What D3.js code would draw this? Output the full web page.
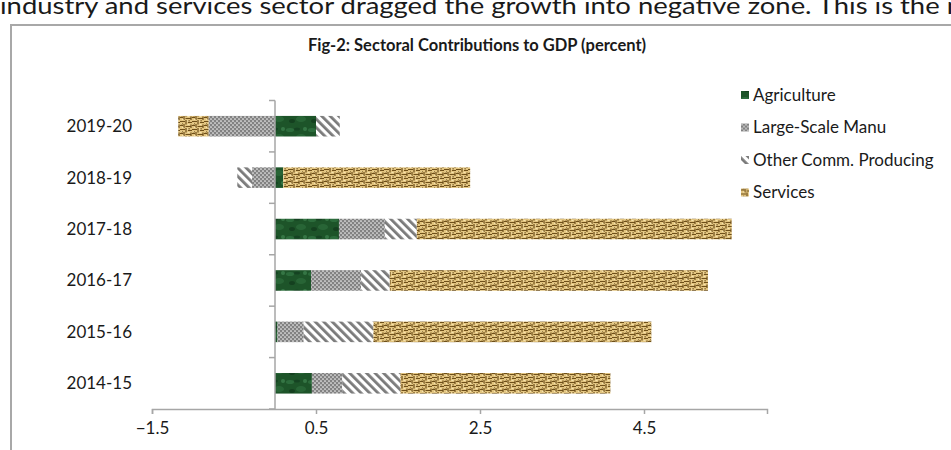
<!DOCTYPE html>
<html>
<head>
<meta charset="utf-8">
<script src="https://cdn.jsdelivr.net/npm/d3@7"></script>
<style>
  body { margin: 0; background: #fff; }
  svg { display: block; }
  text { font-family: Lato, "Open Sans", sans-serif; fill: #1a1a1a; }
</style>
</head>
<body>
<svg id="chart" width="951" height="450"></svg>
<script>
// values (percentage points of GDP growth)
const years = ['2019-20', '2018-19', '2017-18', '2016-17', '2015-16', '2014-15'];
const sectors = ['Agriculture', 'Large-Scale Manu', 'Other Comm. Producing', 'Services'];
const agriculture = [0.50, 0.10, 0.78, 0.44, 0.03, 0.45];
const largeScaleManu = [-0.81, -0.28, 0.56, 0.61, 0.32, 0.37];
const otherCommProducing = [0.29, -0.18, 0.39, 0.35, 0.85, 0.71];
const services = [-0.37, 2.28, 3.84, 3.88, 3.39, 2.56];
const xTicks = [-1.5, 0.5, 2.5, 4.5];

const svg = d3.select('#chart');
const defs = svg.append('defs');

// fill textures, one per sector
const agri = defs.append('pattern').attr('id', 'p0')
  .attr('patternUnits', 'userSpaceOnUse').attr('width', 22).attr('height', 18);
agri.append('rect').attr('width', 22).attr('height', 18).attr('fill', '#1d5429');
[[4, 4, 4, 2, '#2c6c3c'], [15, 11, 5, 3, '#286536'], [11, 3, 3, 1.5, '#154322'],
 [6, 13, 3, 2, '#14401f'], [19, 3, 2, 2, '#357645']].forEach(([cx, cy, rx, ry, c]) => {
  agri.append('ellipse').attr('cx', cx).attr('cy', cy).attr('rx', rx).attr('ry', ry).attr('fill', c);
});

const lsm = defs.append('pattern').attr('id', 'p1')
  .attr('patternUnits', 'userSpaceOnUse').attr('width', 4).attr('height', 4);
lsm.append('rect').attr('width', 4).attr('height', 4).attr('fill', '#828282');
lsm.append('circle').attr('cx', 1).attr('cy', 1).attr('r', 0.85).attr('fill', '#f0f0f0');
lsm.append('circle').attr('cx', 3).attr('cy', 3).attr('r', 0.85).attr('fill', '#f0f0f0');

const other = defs.append('pattern').attr('id', 'p2')
  .attr('patternUnits', 'userSpaceOnUse').attr('width', 6).attr('height', 6)
  .attr('patternTransform', 'rotate(-45)');
other.append('rect').attr('width', 6).attr('height', 6).attr('fill', '#fff');
other.append('rect').attr('width', 2.8).attr('height', 6).attr('fill', '#7a7a7a');

const serv = defs.append('pattern').attr('id', 'p3')
  .attr('patternUnits', 'userSpaceOnUse').attr('width', 12).attr('height', 8);
serv.append('rect').attr('width', 12).attr('height', 8).attr('fill', '#e2c47f');
serv.append('path')
  .attr('d', 'M0 1.5h5M6 0v4.5M8 2.5h4M0 5.5h3M4 4v4M5.5 6.5h5M11 4.5v3.5M9 0v1.5M2 3v1.5')
  .attr('stroke', '#6e4f1a').attr('stroke-width', 1.2).attr('fill', 'none');
serv.append('path')
  .attr('d', 'M1 3.5h0.8M7.5 4.5h2M2 7.5h1.5M7 1h1.5')
  .attr('stroke', '#f6e3b0').attr('stroke-width', 1).attr('fill', 'none');

// text above the chart box (cut off in the source)
svg.append('text')
  .attr('x', 0).attr('y', 14)
  .attr('font-size', 24)
  .attr('textLength', 962).attr('lengthAdjust', 'spacingAndGlyphs')
  .text('industry and services sector dragged the growth into negative zone. This is the n');

// chart box
svg.append('rect')
  .attr('x', 11).attr('y', 25).attr('width', 960).attr('height', 440)
  .attr('fill', 'none').attr('stroke', '#a8a8a8').attr('stroke-width', 2);

svg.append('text')
  .attr('x', 477).attr('y', 51)
  .attr('text-anchor', 'middle')
  .attr('font-size', 16.5).attr('font-weight', 'bold')
  .text('Fig-2: Sectoral Contributions to GDP (percent)');

const x = d3.scaleLinear().domain([-1.5, 6]).range([152, 767]);
const y = d3.scaleBand().domain(years).range([100.5, 409])
  .paddingInner(0.6).paddingOuter(0.3);

const table = years.map((yr, i) => ({
  year: yr,
  [sectors[0]]: agriculture[i],
  [sectors[1]]: largeScaleManu[i],
  [sectors[2]]: otherCommProducing[i],
  [sectors[3]]: services[i],
}));

const series = d3.stack().keys(sectors).offset(d3.stackOffsetDiverging)(table);

svg.append('g')
  .selectAll('g')
  .data(series)
  .join('g')
  .attr('fill', (d, i) => `url(#p${i})`)
  .selectAll('rect')
  .data((d) => d)
  .join('rect')
  .attr('x', (d) => x(Math.min(d[0], d[1])))
  .attr('width', (d) => Math.abs(x(d[1]) - x(d[0])))
  .attr('y', (d) => y(d.data.year))
  .attr('height', y.bandwidth());

// value axis
const xAxis = svg.append('g')
  .attr('transform', `translate(0,${y.range()[1]})`)
  .call(d3.axisBottom(x).tickValues(xTicks).tickFormat(d3.format('.1f')).tickSize(5).tickPadding(8));
xAxis.select('.domain').attr('stroke', '#a6a6a6').attr('stroke-width', 1.5);
xAxis.selectAll('.tick line').attr('stroke', '#a6a6a6').attr('stroke-width', 1.5);
xAxis.selectAll('.tick text')
  .attr('font-size', 17).attr('font-family', 'Lato, sans-serif').attr('fill', '#1a1a1a');

// category axis at zero, with ticks between bars
const x0 = x(0);
const cat = svg.append('g');
cat.append('line')
  .attr('x1', x0).attr('x2', x0)
  .attr('y1', y.range()[0]).attr('y2', y.range()[1])
  .attr('stroke', '#a6a6a6').attr('stroke-width', 1.5);
const bounds = d3.range(years.length + 1).map((i) => y.range()[0] + i * y.step());
cat.selectAll('line.t')
  .data(bounds)
  .join('line')
  .attr('class', 't')
  .attr('x1', x0 - 6).attr('x2', x0)
  .attr('y1', (d) => d).attr('y2', (d) => d)
  .attr('stroke', '#a6a6a6').attr('stroke-width', 1.5);
cat.selectAll('text')
  .data(years)
  .join('text')
  .attr('x', 132)
  .attr('y', (d) => y(d) + y.bandwidth() / 2)
  .attr('dy', '0.35em')
  .attr('text-anchor', 'end')
  .attr('font-size', 17)
  .text((d) => d);

// legend
const legend = svg.append('g')
  .selectAll('g')
  .data(sectors)
  .join('g')
  .attr('transform', (d, i) => `translate(741,${95 + i * 32.5})`);
legend.append('rect')
  .attr('x', 0).attr('y', -4).attr('width', 8).attr('height', 8)
  .attr('fill', (d, i) => `url(#p${i})`);
legend.append('text')
  .attr('x', 12).attr('dy', '0.35em')
  .attr('font-size', 17)
  .text((d) => d);
</script>
</body>
</html>
